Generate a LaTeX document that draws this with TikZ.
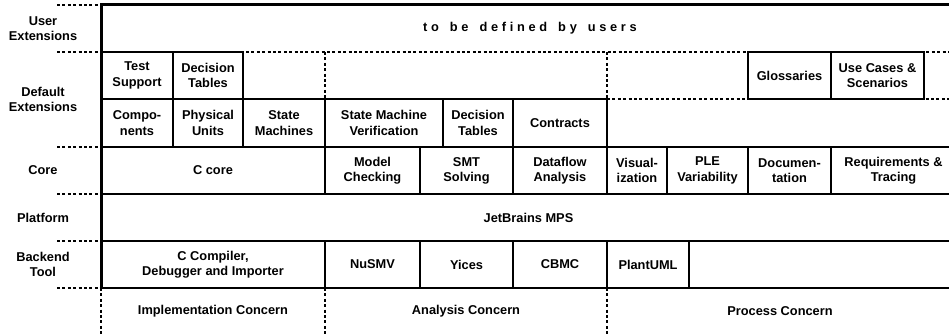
\documentclass[tikz,border=0pt]{standalone}
\usepackage{fontspec}
\setmainfont{Liberation Sans}
\newcommand\lbl{\fontsize{12.8}{15.2}\selectfont\bfseries}
% a rectangular cell given by its corners (x1,y1) and (x2,y2), y downwards
\newcommand\cellbox[6]{%
  \node[cell, minimum width={#4-#2}, minimum height={#5-#3}] (#1)
    at ({(#2+#4)/2},{(#3+#5)/2}) {#6};}
% letter spacing for the user extension text
\newcommand\g{\hspace{3.7pt}}
\tikzset{
  cell/.style={draw, line width=1.3pt, inner sep=0pt, align=center, font=\lbl},
  lbltext/.style={inner sep=0pt, align=center, font=\lbl},
  layersep/.style={line width=1.3pt, dash pattern=on 3pt off 2.4pt},
  frame/.style={line width=3pt},
}
\begin{document}
\begin{tikzpicture}[x=1pt, y=-1pt]
\clip (0,0) rectangle (949,334);
\fill[white] (0,0) rectangle (949,334);

% layer labels on the left
\node[lbltext] (luser) at (43,28.5) {User\\Extensions};
\node[lbltext] (ldefault) at (43,99.5) {Default\\Extensions};
\node[lbltext] (lcore) at (43,170.5) {Core};
\node[lbltext] (lplatform) at (43,217.5) {Platform};
\node[lbltext] (lbackend) at (43,264.5) {Backend\\Tool};

% dashed separators between the layer labels
\foreach \yy in {5,147,194,241,288}
  \draw[layersep] (57,\yy) -- (101,\yy);
\draw[layersep] (57,52) -- (956,52);
\draw[layersep] (607,99) -- (956,99);
\draw[layersep] (325,52) -- (325,99);
\draw[layersep] (607,52) -- (607,99);

% concern columns
\foreach \xx in {101,325,607}
  \draw[layersep] (\xx,288) -- (\xx,336);
\node[lbltext] (cimpl) at (213,311) {Implementation Concern};
\node[lbltext] (canal) at (466,311) {Analysis Concern};
\node[lbltext] (cproc) at (780,311) {Process Concern};

% user extensions
\node[lbltext] (usertext) at (530,28.5)
  {t\g o\g\ \g b\g e\g\ \g d\g e\g f\g i\g n\g e\g d\g\ \g b\g y\g\ \g u\g s\g e\g r\g s};

% default extensions
\cellbox{testsup}{101}{52}{173}{99}{Test\\Support}
\cellbox{dectabA}{173}{52}{243}{99}{Decision\\Tables}
\cellbox{gloss}{748}{52}{831}{99}{Glossaries}
\cellbox{usecases}{831}{52}{924}{99}{Use Cases \&\\Scenarios}
\cellbox{comp}{101}{99}{173}{147}{Compo-\\nents}
\cellbox{physunits}{173}{99}{243}{147}{Physical\\Units}
\cellbox{statemach}{243}{99}{325}{147}{State\\Machines}
\cellbox{smverif}{325}{99}{443}{147}{State Machine\\Verification}
\cellbox{dectabB}{443}{99}{513}{147}{Decision\\Tables}
\cellbox{contracts}{513}{99}{607}{147}{Contracts}

% core
\cellbox{ccore}{101}{147}{325}{194}{C core}
\cellbox{modelcheck}{325}{147}{420}{194}{Model\\Checking}
\cellbox{smt}{420}{147}{513}{194}{SMT\\Solving}
\cellbox{dataflow}{513}{147}{607}{194}{Dataflow\\Analysis}
\cellbox{visual}{607}{147}{667}{194}{Visual-\\ization}
\cellbox{ple}{667}{147}{748}{194}{PLE\\Variability}
\cellbox{docu}{748}{147}{831}{194}{Documen-\\tation}
\cellbox{reqs}{831}{147}{956}{194}{Requirements \&\\Tracing}

% platform
\cellbox{mps}{101}{194}{956}{241}{JetBrains MPS}

% backend tools
\cellbox{ccomp}{101}{241}{325}{288}{C Compiler,\\Debugger and Importer}
\cellbox{nusmv}{325}{241}{420}{288}{NuSMV}
\cellbox{yices}{420}{241}{513}{288}{Yices}
\cellbox{cbmc}{513}{241}{607}{288}{CBMC}
\cellbox{plantuml}{607}{241}{689}{288}{PlantUML}
\cellbox{backrest}{689}{241}{956}{288}{}

% heavy frame lines
\draw[frame] (101,5) -- (956,5);
\draw[frame] (101,3.5) -- (101,288);
\draw[line width=2.6pt] (99.5,288) -- (956,288);
\draw[line width=2pt] (101,194) -- (956,194);
\end{tikzpicture}
\end{document}
